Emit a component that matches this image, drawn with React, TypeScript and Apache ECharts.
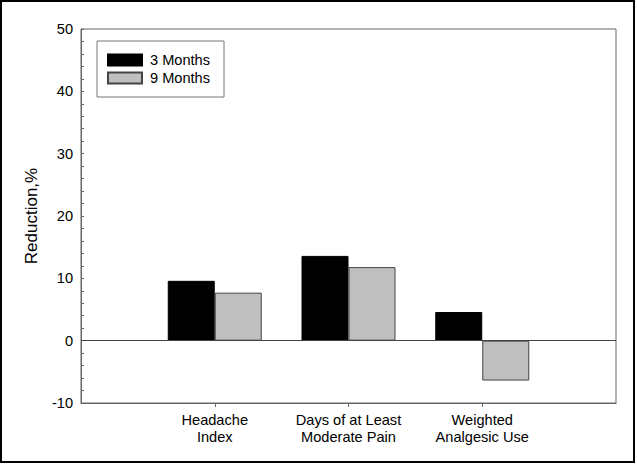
import React, { useEffect, useRef } from "react";
import * as echarts from "echarts";

const categories = ["", "Headache\nIndex", "Days of at Least\nModerate Pain", "Weighted\nAnalgesic Use", ""];
const months3 = [null, 9.6, 13.6, 4.6, null];
const months9 = [null, 7.7, 11.8, -6.4, null];
const seriesNames = ["3 Months", "9 Months"];
const yMin = -10;
const yMax = 50;
const yInterval = 10;

const FONT = "'Liberation Sans', Arial, Helvetica, sans-serif";
const FS = 14.6;

export default function App() {
  const ref = useRef<HTMLDivElement>(null);
  useEffect(() => {
    if (!ref.current) return;
    const chart = echarts.init(ref.current, undefined, { renderer: "svg" });
    chart.setOption({
      animation: false,
      backgroundColor: "#fff",
      textStyle: { fontFamily: FONT },
      grid: {
        left: 81,
        top: 29,
        right: 21,
        bottom: 61,
        show: true,
        borderColor: "#666",
        borderWidth: 1,
        backgroundColor: "transparent",
      },
      graphic: [
        {
          type: "rect",
          shape: { x: 1, y: 1, width: 633, height: 461 },
          style: { fill: "none", stroke: "#000", lineWidth: 2 },
          silent: true,
        },
        {
          type: "rect",
          shape: { x: 97, y: 41, width: 127, height: 56 },
          style: { fill: "none", stroke: "#777", lineWidth: 1 },
          silent: true,
          z: 10,
        },
      ],
      legend: {
        orient: "vertical",
        left: 107,
        top: 51,
        itemGap: 0,
        itemWidth: 34,
        itemHeight: 11,
        icon: "rect",
        padding: 0,
        data: seriesNames,
        textStyle: { fontSize: FS, color: "#000", lineHeight: 18, fontFamily: FONT, padding: [0, 0, 0, 3] },
      },
      xAxis: {
        type: "category",
        data: categories,
        boundaryGap: false,
        axisLine: { onZero: false, lineStyle: { color: "#666" } },
        axisTick: {
          show: true,
          inside: false,
          length: 4,
          interval: (idx: number) => idx >= 1 && idx <= 3,
          lineStyle: { color: "#666" },
        },
        axisLabel: {
          interval: 0,
          color: "#000",
          fontSize: FS,
          lineHeight: 17,
          margin: 8,
          fontFamily: FONT,
        },
        splitLine: { show: false },
      },
      yAxis: {
        type: "value",
        min: yMin,
        max: yMax,
        interval: yInterval,
        name: "Reduction,%",
        nameLocation: "middle",
        nameRotate: 90,
        nameGap: 41,
        nameTextStyle: { fontSize: 17, color: "#000", fontFamily: FONT },
        axisLine: { show: true, lineStyle: { color: "#666" } },
        axisTick: { show: true, inside: true, length: 3, lineStyle: { color: "#666" } },
        minorTick: { show: true, splitNumber: 5, length: 3, lineStyle: { color: "#666" } },
        axisLabel: { color: "#000", fontSize: FS, margin: 8, fontFamily: FONT },
        splitLine: { show: false },
      },
      series: [
        {
          name: seriesNames[0],
          type: "bar",
          data: months3,
          barWidth: 47,
          barGap: "0%",
          itemStyle: { color: "#000", borderColor: "#000", borderWidth: 1 },
          markLine: {
            silent: true,
            symbol: "none",
            label: { show: false },
            lineStyle: { color: "#444", type: "solid", width: 1 },
            data: [{ yAxis: 0 }],
          },
        },
        {
          name: seriesNames[1],
          type: "bar",
          data: months9,
          barWidth: 47,
          barGap: "0%",
          itemStyle: { color: "#bfbfbf", borderColor: "#444", borderWidth: 1 },
        },
      ],
    });
    return () => chart.dispose();
  }, []);
  return (
    <div
      ref={ref}
      style={{ position: "fixed", left: 0, top: 0, width: 637, height: 464 }}
    />
  );
}
